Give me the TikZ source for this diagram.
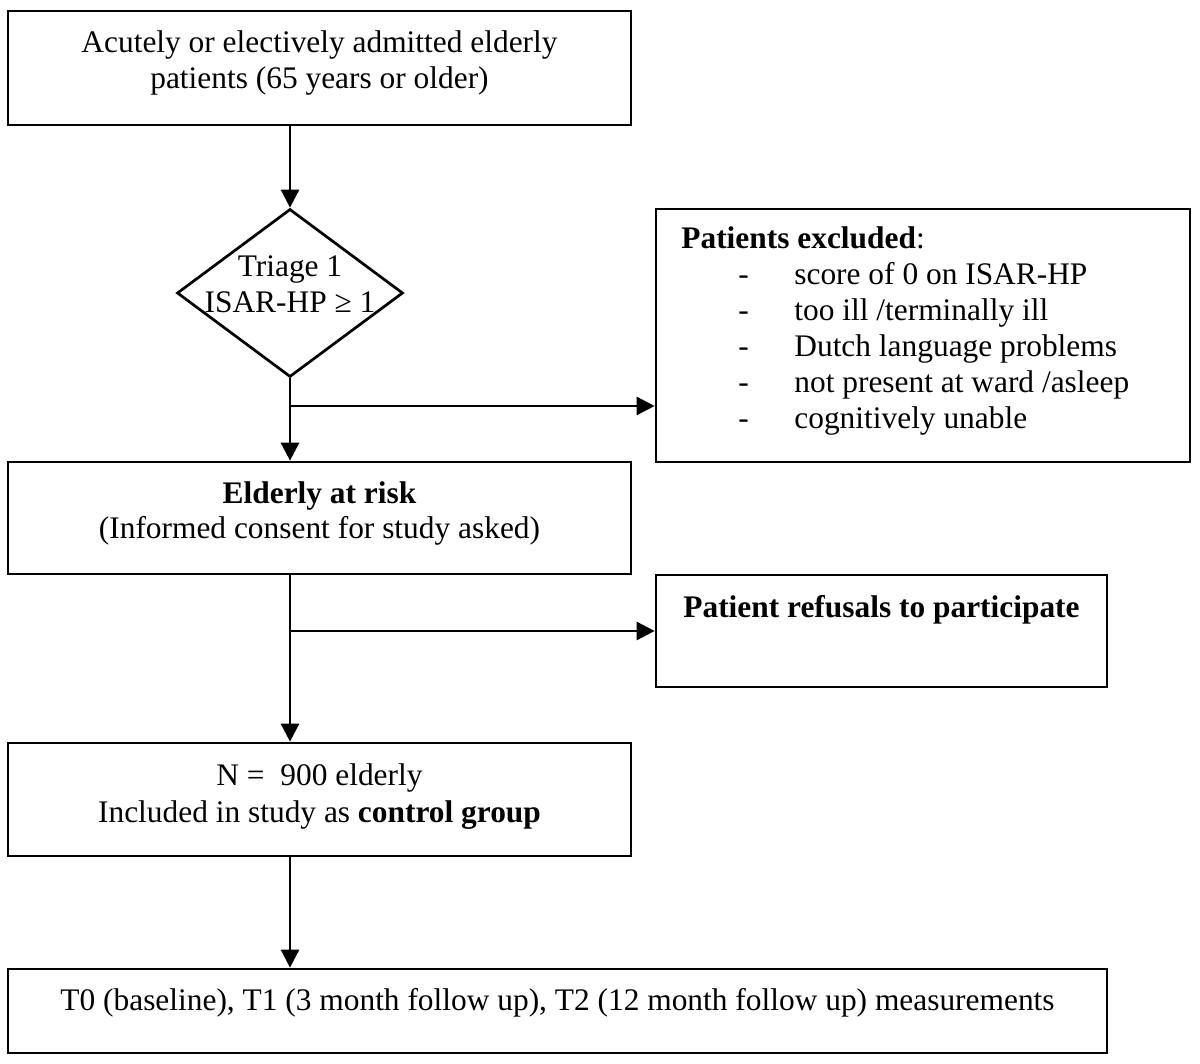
\documentclass[tikz,border=0pt]{standalone}
\usepackage{fontspec}
\setmainfont{Liberation Serif}
\usetikzlibrary{shapes.geometric,arrows.meta}
\tikzset{
  box/.style={draw, line width=1.35pt, rectangle, inner sep=0pt},
  dia/.style={draw, line width=1.35pt, diamond, inner sep=0pt, aspect=1},
  txt/.style={inner sep=0pt, anchor=base, font=\fontsize{15.7}{18}\selectfont},
  txtl/.style={inner sep=0pt, anchor=base west, font=\fontsize{15.7}{18}\selectfont},
  arr/.style={line width=1.35pt, -{Triangle[length=9pt,width=9pt]}},
  ln/.style={line width=1.35pt}
}
\begin{document}
\begin{tikzpicture}[x=0.5pt, y=-0.5pt]
\useasboundingbox (0,0) rectangle (1200,1064);
% boxes
\node[box, minimum width=311.5pt, minimum height=57pt] (b1) at (319.5,68) {};
\node[dia, minimum width=113pt, minimum height=84pt] (d) at (290,293) {};
\node[box, minimum width=311.5pt, minimum height=56pt] (b2) at (319.5,518) {};
\node[box, minimum width=267pt, minimum height=126.5pt] (ex) at (923,335.5) {};
\node[box, minimum width=225.5pt, minimum height=56pt] (rf) at (881.5,631) {};
\node[box, minimum width=311.5pt, minimum height=56.5pt] (b3) at (319.5,799.5) {};
\node[box, minimum width=549.5pt, minimum height=42pt] (b4) at (557.5,1011) {};
% texts
\node[txt] (t1a) at (319.5,53) {Acutely or electively admitted elderly};
\node[txt] (t1b) at (319.5,89) {patients (65 years or older)};
\node[txt] (tda) at (290,277) {Triage 1};
\node[txt] (tdb) at (290,313) {ISAR-HP ≥ 1};
\node[txt] (t2a) at (319.5,503) {\textbf{Elderly at risk}};
\node[txt] (t2b) at (319.5,538) {(Informed consent for study asked)};
\node[txtl] (tex) at (681,249) {\textbf{Patients excluded}:};
\node[txtl] (tex1) at (738,285) {\makebox[28pt][l]{-}score of 0 on ISAR-HP};
\node[txtl] (tex2) at (738,321) {\makebox[28pt][l]{-}too ill /terminally ill};
\node[txtl] (tex3) at (738,357) {\makebox[28pt][l]{-}Dutch language problems};
\node[txtl] (tex4) at (738,393) {\makebox[28pt][l]{-}not present at ward /asleep};
\node[txtl] (tex5) at (738,429) {\makebox[28pt][l]{-}cognitively unable};
\node[txt] (trf) at (881.5,617) {\textbf{Patient refusals to participate}};
\node[txt] (t3a) at (319.5,785) {N =\ \ 900 elderly};
\node[txt] (t3b) at (319.5,822) {Included in study as \textbf{control group}};
\node[txt] (t4) at (557.5,1010) {T0 (baseline), T1 (3 month follow up), T2 (12 month follow up) measurements};
% connectors
\coordinate (j1) at (290,406);
\coordinate (j2) at (290,631);
\draw[arr] (b1.south -| d.north) -- (d.north);
\draw[arr] (d.south) -- (d.south |- b2.north);
\draw[arr] (j1) -- (j1 -| ex.west);
\draw[ln] (b2.south -| d.south) -- (j2);
\draw[arr] (j2) -- (d.south |- b3.north);
\draw[arr] (j2) -- (j2 -| rf.west);
\draw[arr] (b3.south -| d.south) -- (d.south |- b4.north);
\end{tikzpicture}
\end{document}
